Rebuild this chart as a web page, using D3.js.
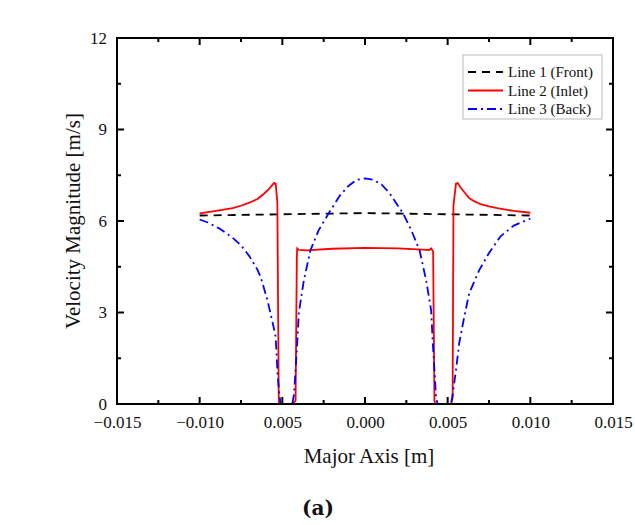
<!DOCTYPE html>
<html lang="en">
<head>
    <meta charset="UTF-8">
    <script src="https://d3js.org/d3.v7.min.js"></script>
    <style>
        body { margin: 0; background: #fff; }
        text { font-family: "Liberation Serif", "Times New Roman", serif; fill: #111; }
    </style>
</head>
<body>
    <script>
        // values
        var xTicks = [-0.015, -0.010, -0.005, 0.000, 0.005, 0.010, 0.015];
        var xTickLabels = ["\u22120.015", "\u22120.010", "0.005", "0.000", "0.005", "0.010", "0.015"];
        var yTicks = [0, 3, 6, 9, 12];

        var frontX = [-0.010, -0.005, 0.000, 0.005, 0.010];
        var frontY = [6.18, 6.22, 6.26, 6.22, 6.18];

        var inletX = [-0.0100, -0.0090, -0.0080, -0.0075, -0.0070, -0.0065, -0.0062, -0.0059, -0.0057, -0.0055, -0.0054, -0.0053,
                      -0.00522, -0.0052, -0.0044, -0.0042, -0.00412, -0.0041, -0.0040, -0.0035, -0.0020, 0.0000, 0.0020, 0.0035,
                      0.0039, 0.0040, 0.00412, 0.0042, 0.00425, 0.0052, 0.0053, 0.00535, 0.0055, 0.0056, 0.0058, 0.0060,
                      0.0063, 0.0066, 0.0070, 0.0075, 0.0080, 0.0090, 0.0100];
        var inletY = [6.25, 6.33, 6.42, 6.50, 6.60, 6.72, 6.85, 7.00, 7.12, 7.25, 7.22, 6.60,
                      0.30, 0.00, 0.00, 0.10, 4.90, 5.10, 5.05, 5.04, 5.09, 5.12, 5.10, 5.06,
                      5.05, 5.10, 5.00, 0.10, 0.00, 0.00, 0.20, 6.50, 7.22, 7.25, 7.08, 6.95,
                      6.75, 6.65, 6.55, 6.48, 6.42, 6.33, 6.27];

        var backX = [-0.0100, -0.0095, -0.0088, -0.0080, -0.0075, -0.0070, -0.0065, -0.0063, -0.0059, -0.0056, -0.0054, -0.0053,
                     -0.0052, -0.0051, -0.0044, -0.0043, -0.0042, -0.0041, -0.0040, -0.0037, -0.0033, -0.0028, -0.0022, -0.0015,
                     -0.0010, -0.0005, 0.0000, 0.0005, 0.0010, 0.0015, 0.0023, 0.0028, 0.0033, 0.0037, 0.0040, 0.0041,
                     0.0042, 0.0043, 0.0044, 0.0052, 0.0053, 0.0055, 0.0057, 0.0060, 0.0063, 0.0069, 0.0075, 0.0082,
                     0.0090, 0.0100];
        var backY = [6.05, 5.95, 5.75, 5.45, 5.20, 4.85, 4.40, 4.15, 3.40, 2.70, 2.19, 1.10,
                     0.40, 0.00, 0.00, 0.30, 1.10, 2.00, 3.00, 4.05, 5.04, 5.70, 6.25, 6.85,
                     7.15, 7.35, 7.40, 7.35, 7.20, 6.90, 6.25, 5.70, 5.04, 4.05, 3.07, 2.00,
                     1.10, 0.20, 0.00, 0.00, 0.30, 1.10, 2.00, 2.85, 3.63, 4.38, 4.95, 5.50,
                     5.85, 6.08];

        var seriesNames = ["Line 1 (Front)", "Line 2 (Inlet)", "Line 3 (Back)"];
        var seriesColors = ["#000000", "#ff0000", "#0000ff"];
        var seriesDash = ["8,6", null, "9,4,2,4"];

        var width = 635, height = 525;
        var plotL = 117, plotR = 613, plotT = 38, plotB = 404;

        var svg = d3.select("body").append("svg")
            .attr("width", width)
            .attr("height", height);

        var x = d3.scaleLinear().domain([-0.015, 0.015]).range([plotL, plotR]);
        var y = d3.scaleLinear().domain([0, 12]).range([plotB, plotT]);

        var xMinor = d3.range(-0.0125, 0.0125 + 1e-9, 0.005);
        var yMinor = d3.range(1.5, 12, 3);

        // clip lines to the frame
        svg.append("clipPath").attr("id", "clip")
            .append("rect").attr("x", plotL).attr("y", plotT)
            .attr("width", plotR - plotL).attr("height", plotB - plotT);

        var line = d3.line().x(d => x(d[0])).y(d => y(d[1]));
        var series = [
            d3.zip(frontX, frontY),
            d3.zip(inletX, inletY),
            d3.zip(backX, backY)
        ];

        var g = svg.append("g").attr("clip-path", "url(#clip)");
        series.forEach(function(s, i) {
            g.append("path")
                .datum(s)
                .attr("d", line)
                .attr("fill", "none")
                .attr("stroke", seriesColors[i])
                .attr("stroke-width", 1.8)
                .attr("stroke-dasharray", seriesDash[i]);
        });

        // tick labels from d3 axes (tick marks drawn separately below)
        var axB = d3.axisBottom(x).tickValues(xTicks).tickFormat((d, i) => xTickLabels[i]).tickSize(0).tickPadding(12);
        var axL = d3.axisLeft(y).tickValues(yTicks).tickSize(0).tickPadding(10);
        [[axB, 0, plotB], [axL, plotL, 0]].forEach(function(a) {
            var ga = svg.append("g").attr("transform", "translate(" + a[1] + "," + a[2] + ")").call(a[0]);
            ga.select(".domain").remove();
            ga.selectAll("text").attr("font-size", "17px").attr("fill", "#111")
                .style("font-family", "'Liberation Serif', serif");
        });

        // inward tick marks on all four sides
        var ticks = svg.append("g").attr("stroke", "#000").attr("stroke-width", 2);
        function xTickMarks(vals, len) {
            vals.forEach(function(v) {
                ticks.append("line").attr("x1", x(v)).attr("x2", x(v)).attr("y1", plotB).attr("y2", plotB - len);
                ticks.append("line").attr("x1", x(v)).attr("x2", x(v)).attr("y1", plotT).attr("y2", plotT + len);
            });
        }
        function yTickMarks(vals, len) {
            vals.forEach(function(v) {
                ticks.append("line").attr("y1", y(v)).attr("y2", y(v)).attr("x1", plotL).attr("x2", plotL + len);
                ticks.append("line").attr("y1", y(v)).attr("y2", y(v)).attr("x1", plotR).attr("x2", plotR - len);
            });
        }
        xTickMarks(xTicks, 7); xTickMarks(xMinor, 4);
        yTickMarks(yTicks, 7); yTickMarks(yMinor, 4);

        svg.append("rect")
            .attr("x", plotL).attr("y", plotT)
            .attr("width", plotR - plotL).attr("height", plotB - plotT)
            .attr("fill", "none").attr("stroke", "#000").attr("stroke-width", 2);

        // axis titles
        svg.append("text")
            .attr("x", 369).attr("y", 463)
            .attr("text-anchor", "middle")
            .attr("font-size", "21px")
            .text("Major Axis [m]");

        svg.append("text")
            .attr("transform", "translate(80,221) rotate(-90)")
            .attr("text-anchor", "middle")
            .attr("font-size", "21px")
            .text("Velocity Magnitude [m/s]");

        svg.append("text")
            .attr("x", 318).attr("y", 515)
            .attr("text-anchor", "middle")
            .attr("font-size", "20px")
            .attr("font-weight", "bold")
            .style("font-family", "'DejaVu Serif', serif")
            .text("(a)");

        // legend
        var leg = svg.append("g");
        leg.append("rect")
            .attr("x", 463).attr("y", 55)
            .attr("width", 139).attr("height", 64)
            .attr("fill", "#fff").attr("stroke", "#bbb").attr("stroke-width", 1);
        seriesNames.forEach(function(name, i) {
            var ly = 72 + i * 18.5;
            leg.append("line")
                .attr("x1", 468).attr("x2", 503)
                .attr("y1", ly).attr("y2", ly)
                .attr("stroke", seriesColors[i])
                .attr("stroke-width", 1.8)
                .attr("stroke-dasharray", seriesDash[i]);
            leg.append("text")
                .attr("x", 508).attr("y", ly + 5)
                .attr("font-size", "15px")
                .text(name);
        });
    </script>
</body>
</html>
